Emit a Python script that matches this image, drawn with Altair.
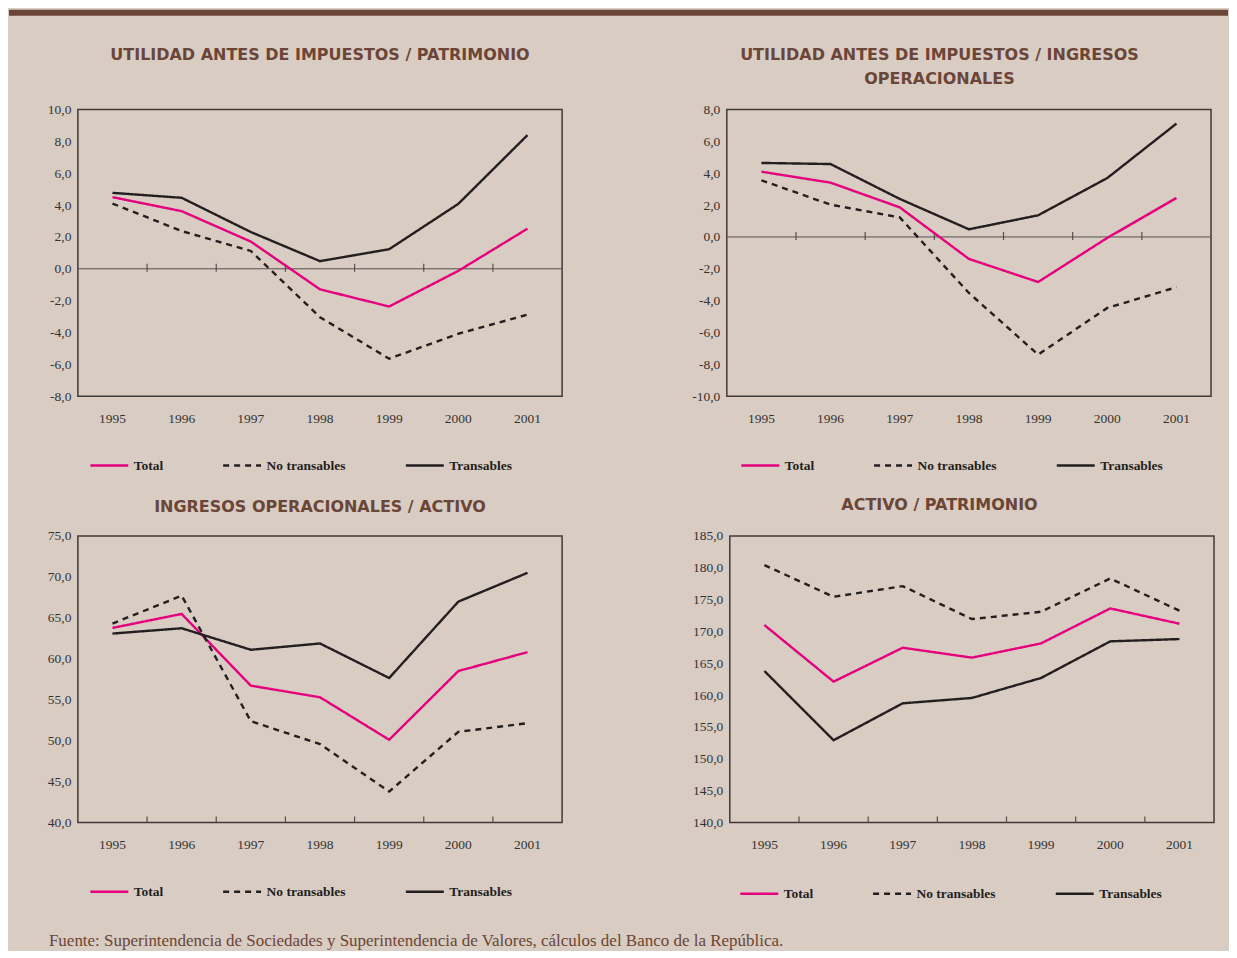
import altair as alt
import pandas as pd

years = ['1995', '1996', '1997', '1998', '1999', '2000', '2001']
series = ['Total', 'No transables', 'Transables']

# Utilidad antes de impuestos / Patrimonio
p1_total = [4.50, 3.62, 1.71, -1.29, -2.37, -0.13, 2.52]
p1_no = [4.10, 2.37, 1.12, -3.04, -5.65, -4.08, -2.88]
p1_tr = [4.77, 4.46, 2.31, 0.48, 1.23, 4.08, 8.40]
p1_ticks = [-8, -6, -4, -2, 0, 2, 4, 6, 8, 10]

# Utilidad antes de impuestos / Ingresos operacionales
p2_total = [4.10, 3.41, 1.86, -1.38, -2.83, -0.06, 2.45]
p2_no = [3.56, 2.03, 1.23, -3.52, -7.39, -4.46, -3.16]
p2_tr = [4.65, 4.58, 2.39, 0.48, 1.36, 3.70, 7.12]
p2_ticks = [-10, -8, -6, -4, -2, 0, 2, 4, 6, 8]

# Ingresos operacionales / Activo
p3_total = [63.76, 65.47, 56.71, 55.29, 50.10, 58.49, 60.80]
p3_no = [64.29, 67.70, 52.37, 49.57, 43.77, 51.07, 52.12]
p3_tr = [63.07, 63.72, 61.09, 61.86, 57.64, 66.97, 70.49]
p3_ticks = [40, 45, 50, 55, 60, 65, 70, 75]

# Activo / Patrimonio
p4_total = [171.00, 162.11, 167.44, 165.88, 168.12, 173.61, 171.21]
p4_no = [180.41, 175.44, 177.11, 171.94, 173.09, 178.32, 173.25]
p4_tr = [163.78, 152.91, 158.71, 159.55, 162.69, 168.44, 168.80]
p4_ticks = [140, 145, 150, 155, 160, 165, 170, 175, 180, 185]

titles = [
    'UTILIDAD ANTES DE IMPUESTOS / PATRIMONIO',
    'UTILIDAD ANTES DE IMPUESTOS / INGRESOS\nOPERACIONALES',
    'INGRESOS OPERACIONALES / ACTIVO',
    'ACTIVO / PATRIMONIO',
]
footer = ('Fuente: Superintendencia de Sociedades y Superintendencia de Valores, '
          'cálculos del Banco de la República.')

BG = '#d9ccc2'
BROWN = '#6b4537'
PINK = '#e5007e'
INK = '#231f20'
FRAME = '#3f3a38'
W, H = 485, 287
TITLE_FONT = 'DejaVu Sans'
SERIF = 'Liberation Serif'


def make_df(total, no, tr):
    rows = []
    for s, vals in zip(series, [total, no, tr]):
        for y, v in zip(years, vals):
            rows.append({'year': y, 'serie': s, 'valor': v})
    return pd.DataFrame(rows)


label_expr = "replace(replace(format(datum.value, '.1f'), '.', ','), '\u2212', '-')"


def panel(df, ydom, yticks, title, tx, ty, zero, lx, ly, extra=None):
    xscale = alt.Scale(type='band', domain=years, paddingInner=0, paddingOuter=0)
    xaxis = alt.Axis(title=None, labelAngle=0, ticks=False, domain=False, grid=False,
                     labelPadding=15, labelFont=SERIF, labelFontSize=13.5, labelColor='#333333')
    yscale = alt.Scale(domain=ydom, nice=False, zero=False)
    yaxis = alt.Axis(title=None, values=yticks, labelExpr=label_expr, ticks=False, domain=False,
                     grid=False, labelPadding=7, labelFont=SERIF, labelFontSize=13.5,
                     labelColor='#333333')
    leg = alt.Legend(orient='none', legendX=lx, legendY=ly, direction='horizontal', columns=3,
                     title=None, symbolType='stroke', symbolSize=1444, symbolStrokeWidth=2.5,
                     labelFont=SERIF, labelFontSize=13.5, labelFontWeight='bold', labelColor=INK,
                     columnPadding=54, labelOffset=4, padding=0)
    lines = alt.Chart(df).mark_line(strokeWidth=2.4).encode(
        x=alt.X('year:O', scale=xscale, axis=xaxis, bandPosition=0.5),
        y=alt.Y('valor:Q', scale=yscale, axis=yaxis),
        color=alt.Color('serie:N', scale=alt.Scale(domain=series, range=[PINK, INK, INK]),
                        legend=leg),
        strokeDash=alt.StrokeDash('serie:N',
                                  scale=alt.Scale(domain=series, range=[[1, 0], [6, 5], [1, 0]]),
                                  legend=leg),
    )
    tick_df = pd.DataFrame({'year': years[1:], 'valor': [0] * (len(years) - 1)})
    layers = []
    if zero:
        zline = alt.Chart(pd.DataFrame({'valor': [0]})).mark_rule(
            color='#555050', strokeWidth=1).encode(y=alt.Y('valor:Q', scale=yscale, axis=yaxis))
        zticks = alt.Chart(tick_df).mark_rule(
            color='#555050', strokeWidth=1.2, yOffset=-5, y2Offset=3).encode(
            x=alt.X('year:O', scale=xscale, axis=xaxis, bandPosition=0),
            y=alt.Y('valor:Q', scale=yscale, axis=yaxis),
            y2='valor:Q')
        layers += [zline, zticks]
    else:
        bticks = alt.Chart(tick_df).mark_rule(color='#555050', strokeWidth=1.2).encode(
            x=alt.X('year:O', scale=xscale, axis=xaxis, bandPosition=0),
            y=alt.value(H), y2=alt.value(H - 6))
        layers.append(bticks)
    ttl = alt.Chart(pd.DataFrame({'t': [title]})).mark_text(
        font=TITLE_FONT, fontSize=16, fontWeight='bold', color=BROWN, align='center',
        baseline='top', lineBreak='\n', lineHeight=24).encode(
        x=alt.value(tx), y=alt.value(ty), text='t:N')
    layers += [lines, ttl]
    if extra is not None:
        layers += extra
    return alt.layer(*layers).properties(width=W, height=H)


bar = alt.Chart(pd.DataFrame({'a': [0]})).mark_rect(color=BROWN).encode(
    x=alt.value(-69), x2=alt.value(1152), y=alt.value(-100), y2=alt.value(-94))

foot = alt.Chart(pd.DataFrame({'t': [footer]})).mark_text(
    font=SERIF, fontSize=17, color=BROWN, align='left', baseline='middle').encode(
    x=alt.value(-29), y=alt.value(406), text='t:N')

c1 = panel(make_df(p1_total, p1_no, p1_tr), [-8, 10], p1_ticks, titles[0], W / 2, -63,
           True, 11, 336, extra=[bar])
c2 = panel(make_df(p2_total, p2_no, p2_tr), [-10, 8], p2_ticks, titles[1], 213, -63,
           True, 13, 336)
c3 = panel(make_df(p3_total, p3_no, p3_tr), [40, 75], p3_ticks, titles[2], W / 2, -37,
           False, 11, 336, extra=[foot])
c4 = panel(make_df(p4_total, p4_no, p4_tr), [140, 185], p4_ticks, titles[3], 210, -39,
           False, 9, 338)

res = dict(x='independent', y='independent', color='independent', strokeDash='independent')
row1 = alt.hconcat(c1, c2, spacing=165, bounds='flush').resolve_scale(**res)
row2 = alt.hconcat(c3, c4, spacing=168, bounds='flush').resolve_scale(**res)

chart = alt.vconcat(row1, row2, spacing=H + 140, bounds='flush').resolve_scale(**res).properties(
    background=BG, padding=0
).configure_view(stroke=FRAME, strokeWidth=1.5)

chart.save('out.html', embed_options={'renderer': 'svg', 'actions': False})
